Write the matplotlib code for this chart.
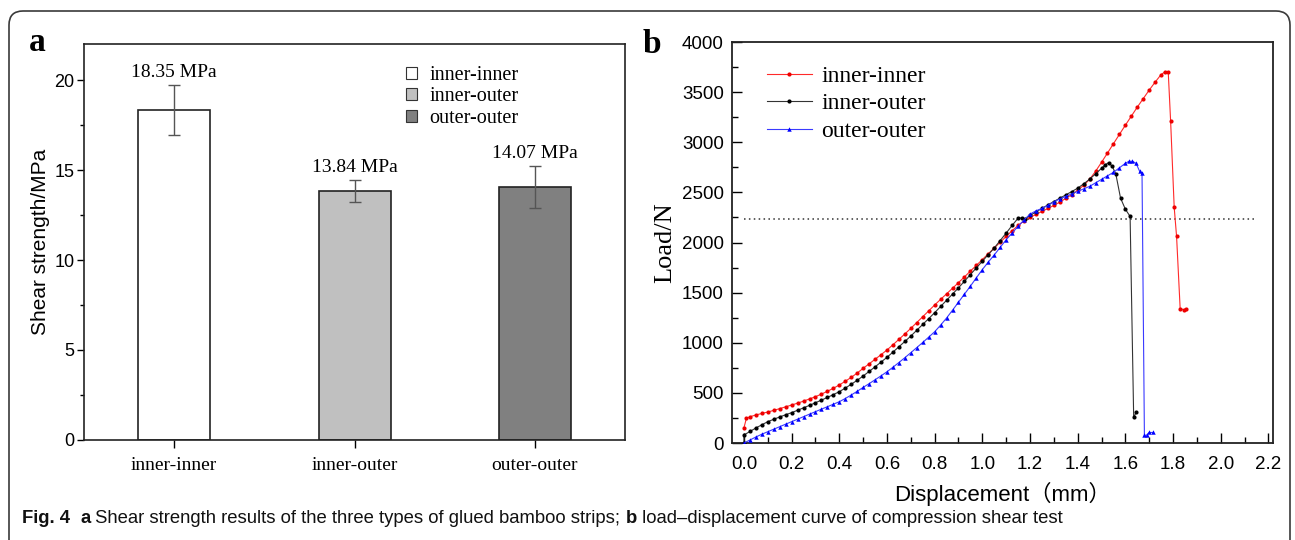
import numpy as np
import matplotlib
matplotlib.use('Agg')
import matplotlib.pyplot as plt
from matplotlib.patches import FancyBboxPatch, Patch
from matplotlib.lines import Line2D
from matplotlib.ticker import MultipleLocator, FormatStrFormatter

SERIF = 'Liberation Serif'
SANS = 'Liberation Sans'

# ---- painel a: resistencia ao cisalhamento ----
tipos = ['inner-inner', 'inner-outer', 'outer-outer']
resistencia = [18.35, 13.84, 14.07]
erro = [1.38, 0.61, 1.17]
cores_barra = ['#ffffff', '#c0c0c0', '#808080']

# ---- painel b: carga x deslocamento ----
desl_ii = [0.000, 0.010, 0.025, 0.050, 0.075, 0.100, 0.125, 0.150, 0.175, 0.200,
           0.225, 0.250, 0.275, 0.300, 0.325, 0.350, 0.375, 0.400, 0.425, 0.450,
           0.475, 0.500, 0.525, 0.550, 0.575, 0.600, 0.625, 0.650, 0.675, 0.700,
           0.725, 0.750, 0.775, 0.800, 0.825, 0.850, 0.875, 0.900, 0.925, 0.950,
           0.975, 1.000, 1.025, 1.050, 1.075, 1.100, 1.125, 1.150, 1.175, 1.200,
           1.225, 1.250, 1.275, 1.300, 1.325, 1.350, 1.375, 1.400, 1.425, 1.450,
           1.475, 1.500, 1.525, 1.550, 1.575, 1.600, 1.625, 1.650, 1.675, 1.700,
           1.725, 1.750, 1.765, 1.780, 1.790, 1.805, 1.815, 1.830, 1.845, 1.855]
carga_ii = [153, 245, 262, 280, 295, 309, 326, 343, 361, 379,
            398, 418, 440, 462, 488, 516, 546, 579, 616, 655,
            698, 745, 790, 835, 881, 928, 980, 1034, 1088, 1144,
            1202, 1260, 1318, 1377, 1433, 1488, 1544, 1600, 1657, 1715,
            1772, 1830, 1888, 1945, 2003, 2060, 2118, 2170, 2215, 2250,
            2280, 2310, 2340, 2370, 2403, 2440, 2478, 2520, 2570, 2630,
            2710, 2800, 2892, 2985, 3078, 3170, 3260, 3350, 3435, 3520,
            3600, 3675, 3700, 3700, 3210, 2350, 2060, 1340, 1330, 1335]

desl_io = [0.000, 0.000, 0.025, 0.050, 0.075, 0.100, 0.125, 0.150, 0.175, 0.200,
           0.225, 0.250, 0.275, 0.300, 0.325, 0.350, 0.375, 0.400, 0.425, 0.450,
           0.475, 0.500, 0.525, 0.550, 0.575, 0.600, 0.625, 0.650, 0.675, 0.700,
           0.725, 0.750, 0.775, 0.800, 0.825, 0.850, 0.875, 0.900, 0.925, 0.950,
           0.975, 1.000, 1.025, 1.050, 1.075, 1.100, 1.125, 1.150, 1.165, 1.180,
           1.200, 1.225, 1.250, 1.275, 1.300, 1.325, 1.350, 1.375, 1.400, 1.425,
           1.450, 1.475, 1.500, 1.515, 1.530, 1.545, 1.560, 1.580, 1.600, 1.620,
           1.635, 1.645]
carga_io = [0, 80, 115, 150, 182, 213, 237, 260, 282, 303,
            327, 351, 376, 402, 428, 455, 483, 512, 548, 586,
            626, 668, 714, 760, 807, 855, 907, 960, 1013, 1067,
            1125, 1183, 1241, 1300, 1362, 1424, 1486, 1548, 1614, 1680,
            1747, 1813, 1880, 1945, 2020, 2094, 2170, 2243, 2245, 2235,
            2270, 2305, 2340, 2375, 2409, 2442, 2475, 2508, 2542, 2585,
            2631, 2685, 2740, 2775, 2797, 2760, 2684, 2442, 2333, 2260,
            255, 305]

desl_oo = [0.000, 0.025, 0.050, 0.075, 0.100, 0.125, 0.150, 0.175, 0.200, 0.225,
           0.250, 0.275, 0.300, 0.325, 0.350, 0.375, 0.400, 0.425, 0.450, 0.475,
           0.500, 0.525, 0.550, 0.575, 0.600, 0.625, 0.650, 0.675, 0.700, 0.725,
           0.750, 0.775, 0.800, 0.825, 0.850, 0.875, 0.900, 0.925, 0.950, 0.975,
           1.000, 1.025, 1.050, 1.075, 1.100, 1.125, 1.150, 1.175, 1.200, 1.225,
           1.250, 1.275, 1.300, 1.325, 1.350, 1.375, 1.400, 1.425, 1.450, 1.475,
           1.500, 1.525, 1.550, 1.575, 1.600, 1.615, 1.630, 1.645, 1.660, 1.670,
           1.680, 1.690, 1.700, 1.715]
carga_oo = [0, 30, 60, 88, 113, 138, 163, 188, 213, 238,
            263, 288, 313, 338, 362, 387, 412, 444, 479, 516,
            555, 592, 631, 670, 711, 756, 803, 851, 901, 952,
            1003, 1056, 1110, 1176, 1247, 1325, 1405, 1485, 1565, 1648,
            1730, 1805, 1876, 1952, 2028, 2095, 2161, 2225, 2283, 2316,
            2340, 2370, 2405, 2435, 2460, 2485, 2510, 2535, 2560, 2595,
            2630, 2665, 2700, 2745, 2790, 2810, 2810, 2790, 2710, 2690,
            75, 80, 105, 105]

# linha pontilhada de referencia
carga_ref = 2230
desl_ref = [0.0, 2.15]

fig = plt.figure(figsize=(12.95, 5.4), dpi=100)

# moldura arredondada
moldura = FancyBboxPatch((0.09, -0.5), 12.81, 5.79,
                         boxstyle='round,pad=0,rounding_size=0.14',
                         transform=fig.dpi_scale_trans, fill=False,
                         edgecolor='#3a3a3a', linewidth=1.2)
fig.add_artist(moldura)

# ====================================
# painel a
ax1 = fig.add_axes([0.0649, 0.1852, 0.4178, 0.7333])
pos = np.arange(1, len(tipos) + 1)
ax1.bar(pos, resistencia, width=0.4, color=cores_barra, edgecolor='#222222',
        linewidth=1.2, zorder=2)
ax1.errorbar(pos, resistencia, yerr=erro, fmt='none', ecolor='#555555',
             elinewidth=1.0, capsize=4, capthick=1.0, zorder=3)
for p, v, e in zip(pos, resistencia, erro):
    ax1.text(p, v + e + 0.2, '%.2f MPa' % v, ha='center', va='bottom',
             family=SERIF, fontsize=14)

ax1.set_xlim(0.5, 3.5)
ax1.set_ylim(0, 22)
ax1.set_xticks(pos)
ax1.set_xticklabels(tipos, family=SERIF, fontsize=14)
ax1.yaxis.set_major_locator(MultipleLocator(5))
ax1.yaxis.set_minor_locator(MultipleLocator(2.5))
ax1.tick_params(axis='y', which='major', direction='out', length=5, width=1,
                labelsize=13, left=True, right=False, pad=2)
ax1.tick_params(axis='y', which='minor', direction='out', length=3, width=1)
ax1.tick_params(axis='x', direction='out', length=6, width=1, top=False, pad=6)
for lab in ax1.get_yticklabels():
    lab.set_family(SANS)
ax1.set_ylabel('Shear strength/MPa', family=SANS, fontsize=15, labelpad=3)
for sp in ax1.spines.values():
    sp.set_linewidth(1.2)
    sp.set_color('#222222')

handles_a = [Patch(facecolor=c, edgecolor='#333333', linewidth=0.8) for c in cores_barra]
ax1.legend(handles_a, tipos, loc='upper left', bbox_to_anchor=(0.58, 0.965),
           frameon=False, prop={'family': SERIF, 'size': 14.5},
           handlelength=0.55, handleheight=0.55, handletextpad=0.6,
           labelspacing=0.12, borderaxespad=0)

fig.text(0.0286, 0.922, 'a', family=SERIF, fontweight='bold', fontsize=24,
         ha='center', va='center')

# ====================================
# painel b
ax2 = fig.add_axes([0.5653, 0.1796, 0.4178, 0.7426])
ax2.plot(desl_ref, [carga_ref, carga_ref], linestyle=(0, (1, 2.2)),
         color='#333333', linewidth=1.1, zorder=1)
estilo = dict(linewidth=0.8, markeredgewidth=0, zorder=3)
ax2.plot(desl_ii, carga_ii, color='#ff2a2a', marker='o', markersize=3.0,
         markerfacecolor='#ee0000', **estilo)
ax2.plot(desl_io, carga_io, color='#333333', marker='o', markersize=3.0,
         markerfacecolor='#000000', **estilo)
ax2.plot(desl_oo, carga_oo, color='#3a3aff', marker='^', markersize=3.2,
         markerfacecolor='#0000ff', **estilo)

ax2.set_xlim(-0.05, 2.22)
ax2.set_ylim(0, 4000)
ax2.xaxis.set_major_locator(MultipleLocator(0.2))
ax2.xaxis.set_minor_locator(MultipleLocator(0.1))
ax2.yaxis.set_major_locator(MultipleLocator(500))
ax2.yaxis.set_minor_locator(MultipleLocator(250))
ax2.tick_params(which='major', direction='in', length=7, width=1,
                labelsize=13.5, top=False, right=False)
ax2.tick_params(which='minor', direction='in', length=4, width=1,
                top=False, right=False)
ax2.tick_params(axis='x', pad=9)
ax2.tick_params(axis='y', pad=6)
ax2.xaxis.set_major_formatter(FormatStrFormatter('%.1f'))
for lab in ax2.get_xticklabels() + ax2.get_yticklabels():
    lab.set_family(SANS)
ax2.set_ylabel('Load/N', family=SERIF, fontsize=19, labelpad=4)
ax2.set_xlabel('Displacement\uff08mm\uff09', family=[SANS, 'Noto Sans CJK SC'],
               fontsize=16, labelpad=7)
for sp in ax2.spines.values():
    sp.set_linewidth(1.3)
    sp.set_color('#222222')

handles_b = [Line2D([], [], color='#ff2a2a', lw=0.8, marker='o', markersize=3.0,
                    markeredgewidth=0, markerfacecolor='#ee0000'),
             Line2D([], [], color='#333333', lw=0.8, marker='o', markersize=3.0,
                    markeredgewidth=0, markerfacecolor='#000000'),
             Line2D([], [], color='#3a3aff', lw=0.8, marker='^', markersize=3.2,
                    markeredgewidth=0, markerfacecolor='#0000ff')]
ax2.legend(handles_b, tipos, loc='upper left', bbox_to_anchor=(0.047, 0.965),
           frameon=False, prop={'family': SERIF, 'size': 17},
           handlelength=1.9, handletextpad=0.4, labelspacing=0.25,
           borderaxespad=0)

fig.text(0.5035, 0.918, 'b', family=SERIF, fontweight='bold', fontsize=24,
         ha='center', va='center')

# ====================================
# legenda da figura (texto em partes, negrito e normal)
partes = [('Fig. 4', 'bold'), ('  ', 'normal'), ('a', 'bold'),
          (' Shear strength results of the three types of glued bamboo strips; ', 'normal'),
          ('b', 'bold'),
          (' load\u2013displacement curve of compression shear test', 'normal')]
fig.canvas.draw()
renderer = fig.canvas.get_renderer()
x0 = 22 / 1295
for txt, peso in partes:
    t = fig.text(x0, 0.0407, txt, family=SANS, fontweight=peso, fontsize=13.3,
                 ha='left', va='center', color='#111111')
    bb = t.get_window_extent(renderer=renderer)
    x0 += bb.width / fig.bbox.width

fig.savefig('out.png', dpi=100)
